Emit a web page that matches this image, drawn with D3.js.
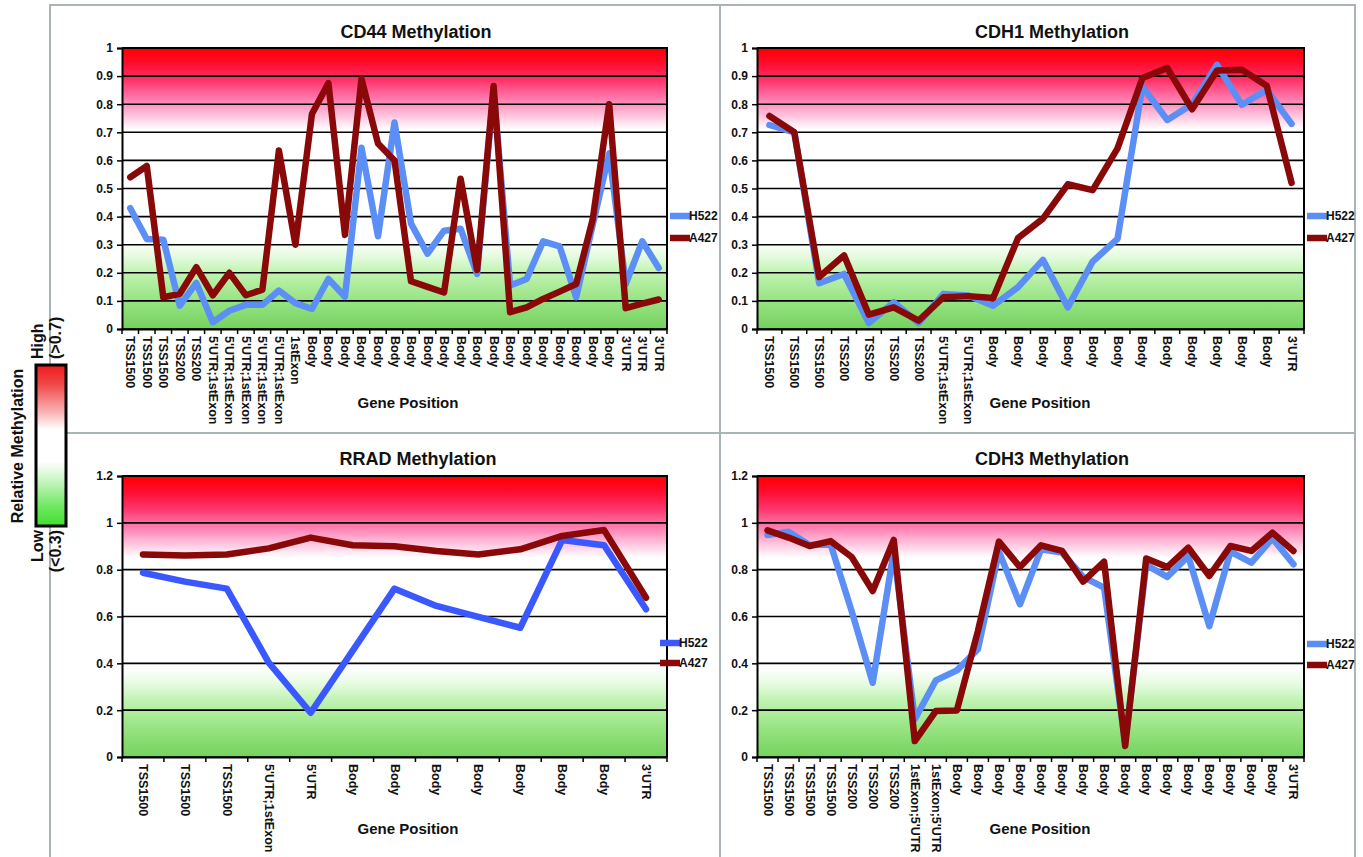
<!DOCTYPE html>
<html>
<head>
<meta charset="utf-8">
<script src="https://cdn.jsdelivr.net/npm/d3@7"></script>
<style>
  body { margin: 0; background: #fff; }
  svg { display: block; font-family: "Liberation Sans", Arial, sans-serif; font-weight: bold; }
</style>
</head>
<body>
<svg id="chart" width="1363" height="857"></svg>
<script>
// ---- data -------------------------------------------------------------
const cd44Categories = ["TSS1500","TSS1500","TSS1500","TSS200","TSS200",
  "5'UTR;1stExon","5'UTR;1stExon","5'UTR;1stExon","5'UTR;1stExon","5'UTR;1stExon","1stExon",
  "Body","Body","Body","Body","Body","Body","Body","Body","Body","Body",
  "Body","Body","Body","Body","Body","Body","Body","Body","Body",
  "3'UTR","3'UTR","3'UTR"];
const cd44H522 = [0.43,0.32,0.318,0.083,0.164,0.024,0.065,0.086,0.086,0.137,0.092,0.071,0.178,0.115,0.645,0.33,0.735,0.375,0.268,0.35,0.357,0.196,0.85,0.155,0.178,0.312,0.294,0.113,0.37,0.625,0.16,0.312,0.217];
const cd44A427 = [0.54,0.58,0.113,0.125,0.22,0.12,0.2,0.12,0.14,0.635,0.3,0.765,0.875,0.335,0.89,0.66,0.6,0.17,0.15,0.13,0.535,0.21,0.865,0.06,0.077,0.107,0.133,0.16,0.39,0.8,0.074,0.09,0.105];

const cdh1Categories = ["TSS1500","TSS1500","TSS1500","TSS200","TSS200","TSS200","TSS200",
  "5'UTR;1stExon","5'UTR;1stExon",
  "Body","Body","Body","Body","Body","Body","Body","Body","Body","Body","Body","Body",
  "3'UTR"];
const cdh1H522 = [0.726,0.70,0.163,0.196,0.021,0.095,0.021,0.125,0.119,0.083,0.149,0.246,0.077,0.24,0.321,0.863,0.744,0.80,0.94,0.798,0.851,0.73];
const cdh1A427 = [0.758,0.70,0.185,0.262,0.051,0.077,0.03,0.113,0.117,0.11,0.324,0.393,0.515,0.494,0.643,0.893,0.929,0.782,0.92,0.923,0.866,0.52];

const rradCategories = ["TSS1500","TSS1500","TSS1500","5'UTR;1stExon","5'UTR",
  "Body","Body","Body","Body","Body","Body","Body","3'UTR"];
const rradH522 = [0.787,0.749,0.719,0.403,0.189,0.453,0.719,0.645,0.598,0.552,0.927,0.904,0.631];
const rradA427 = [0.865,0.861,0.865,0.891,0.937,0.904,0.90,0.88,0.865,0.887,0.944,0.969,0.68];

const cdh3Categories = ["TSS1500","TSS1500","TSS1500","TSS1500","TSS200","TSS200","TSS200",
  "1stExon;5'UTR","1stExon;5'UTR",
  "Body","Body","Body","Body","Body","Body","Body","Body",
  "Body","Body","Body","Body","Body","Body","Body","Body",
  "3'UTR"];
const cdh3H522 = [0.948,0.962,0.905,0.908,0.623,0.317,0.88,0.161,0.327,0.37,0.46,0.877,0.652,0.887,0.873,0.769,0.723,0.06,0.82,0.769,0.858,0.559,0.877,0.83,0.934,0.823];
const cdh3A427 = [0.968,0.937,0.901,0.922,0.854,0.709,0.927,0.068,0.196,0.199,0.538,0.92,0.811,0.904,0.88,0.749,0.834,0.047,0.848,0.811,0.894,0.773,0.901,0.88,0.958,0.88];

const ticksTo1 = [0,0.1,0.2,0.3,0.4,0.5,0.6,0.7,0.8,0.9,1];
const ticksTo12 = [0,0.2,0.4,0.6,0.8,1,1.2];
const seriesNames = ["H522","A427"];

// ---- drawing ----------------------------------------------------------
const svg = d3.select("#chart");
const defs = svg.append("defs");

// plot-area heat background: red (high) -> white -> green (low)
const bg = defs.append("linearGradient").attr("id","heatBg")
  .attr("x1",0).attr("y1",0).attr("x2",0).attr("y2",1);
[[0,"#ff0000"],[0.05,"#ff0a2a"],[0.11,"#ff2f64"],[0.18,"#ff79ad"],[0.24,"#ffc3de"],[0.29,"#ffffff"],
 [0.68,"#ffffff"],[0.74,"#e6fbe0"],[0.8,"#bff3b0"],[0.9,"#97e382"],[1,"#74d25e"]]
  .forEach(([o,c]) => bg.append("stop").attr("offset",o).attr("stop-color",c));

// scale-key gradient
const kg = defs.append("linearGradient").attr("id","keyBg")
  .attr("x1",0).attr("y1",0).attr("x2",0).attr("y2",1);
[[0,"#ee1c1c"],[0.12,"#f04848"],[0.3,"#f9b8b8"],[0.4,"#ffffff"],[0.6,"#ffffff"],[0.72,"#c6f5c0"],[0.88,"#6fe860"],[1,"#3ee030"]]
  .forEach(([o,c]) => kg.append("stop").attr("offset",o).attr("stop-color",c));

// panel frame
const frame = svg.append("g").attr("stroke","#a9b4b7").attr("stroke-width",2).attr("fill","none");
frame.append("rect").attr("x",50).attr("y",5).attr("width",1305).attr("height",860);
frame.append("line").attr("x1",720).attr("x2",720).attr("y1",5).attr("y2",857);
frame.append("line").attr("x1",50).attr("x2",1355).attr("y1",433).attr("y2",433);

const fmt = d => String(+d.toFixed(1));

function drawPanel(p) {
  const g = svg.append("g");
  const n = p.categories.length;
  const x = d3.scaleBand().domain(d3.range(n)).range([p.left, p.right]);
  const y = d3.scaleLinear().domain([0, p.yMax]).range([p.bottom, p.top]);

  g.append("rect").attr("x",p.left).attr("y",p.top)
    .attr("width",p.right-p.left).attr("height",p.bottom-p.top)
    .attr("fill","url(#heatBg)");

  // gridlines
  g.append("g").selectAll("line").data(p.ticks).join("line")
    .attr("x1",p.left).attr("x2",p.right)
    .attr("y1",d=>y(d)).attr("y2",d=>y(d))
    .attr("stroke","#000").attr("stroke-width",1.6);

  // y axis
  const ya = g.append("g").attr("transform",`translate(${p.left},0)`)
    .call(d3.axisLeft(y).tickValues(p.ticks).tickFormat(fmt).tickSize(5).tickPadding(4));
  ya.select(".domain").attr("stroke","#000").attr("stroke-width",2);
  ya.selectAll(".tick line").attr("stroke","#000").attr("stroke-width",1.5);
  ya.selectAll("text").attr("font-size",12).attr("font-weight","bold")
    .attr("font-family","'Liberation Sans', Arial, sans-serif").attr("fill","#111");

  // x axis: category ticks sit between categories
  const xa = g.append("g").attr("transform",`translate(0,${p.bottom})`)
    .call(d3.axisBottom(x).tickFormat(i => p.categories[i]).tickSize(0).tickPadding(0));
  xa.select(".domain").attr("stroke","#000").attr("stroke-width",2);
  xa.selectAll("text")
    .attr("font-size",12.5).attr("font-weight","bold").attr("fill","#111")
    .attr("font-family","'Liberation Sans', Arial, sans-serif")
    .attr("text-anchor","start").attr("dy",null)
    .attr("dominant-baseline","central")
    .attr("transform","translate(0,7) rotate(90)");
  g.append("g").selectAll("line").data(d3.range(n+1)).join("line")
    .attr("x1",i => p.left + i*x.step()).attr("x2",i => p.left + i*x.step())
    .attr("y1",p.bottom).attr("y2",p.bottom+5)
    .attr("stroke","#000").attr("stroke-width",1.5);

  // plot border on right / top
  g.append("path")
    .attr("d",`M${p.left},${p.top}H${p.right}V${p.bottom}`)
    .attr("fill","none").attr("stroke","#000").attr("stroke-width",2);

  // series lines
  const line = d3.line().x((d,i) => x(i) + x.bandwidth()/2).y(d => y(d)).curve(d3.curveLinear);
  const colors = [p.blue, "#890808"];
  [p.h522, p.a427].forEach((vals, k) => {
    g.append("path").datum(vals)
      .attr("d", line)
      .attr("fill","none").attr("stroke",colors[k]).attr("stroke-width",6.5)
      .attr("stroke-linejoin","round").attr("stroke-linecap","round");
  });

  // title
  g.append("text").attr("x",p.titleX).attr("y",p.titleY)
    .attr("text-anchor","middle").attr("font-size",18).attr("fill","#111").text(p.title);

  // axis title
  g.append("text").attr("x",p.axisX).attr("y",p.axisY)
    .attr("text-anchor","middle").attr("font-size",15).attr("fill","#111").text("Gene Position");

  // legend
  seriesNames.forEach((name,k) => {
    const ly = p.legendY[k];
    g.append("line").attr("x1",p.legendX).attr("x2",p.legendX+20)
      .attr("y1",ly).attr("y2",ly).attr("stroke",colors[k]).attr("stroke-width",6.5);
    g.append("text").attr("x",p.legendX+19).attr("y",ly).attr("dominant-baseline","central")
      .attr("font-size",12).attr("fill","#111").text(name);
  });
}

drawPanel({ title:"CD44 Methylation", categories:cd44Categories, h522:cd44H522, a427:cd44A427,
  left:122, right:667, top:48, bottom:329, yMax:1, ticks:ticksTo1, blue:"#5b8ff5",
  titleX:416, titleY:38, axisX:408, axisY:408, legendX:670, legendY:[216,238] });
drawPanel({ title:"CDH1 Methylation", categories:cdh1Categories, h522:cdh1H522, a427:cdh1A427,
  left:757, right:1304, top:48, bottom:329, yMax:1, ticks:ticksTo1, blue:"#5b8ff5",
  titleX:1052, titleY:38, axisX:1040, axisY:408, legendX:1307, legendY:[216,238] });
drawPanel({ title:"RRAD Methylation", categories:rradCategories, h522:rradH522, a427:rradA427,
  left:122, right:667, top:476, bottom:757, yMax:1.2, ticks:ticksTo12, blue:"#3a58ff",
  titleX:418, titleY:465, axisX:408, axisY:834, legendX:660, legendY:[643,663] });
drawPanel({ title:"CDH3 Methylation", categories:cdh3Categories, h522:cdh3H522, a427:cdh3A427,
  left:757, right:1304, top:476, bottom:757, yMax:1.2, ticks:ticksTo12, blue:"#5b8ff5",
  titleX:1052, titleY:465, axisX:1040, axisY:834, legendX:1307, legendY:[644,665] });

// relative methylation key
const key = svg.append("g");
key.append("rect").attr("x",36).attr("y",365).attr("width",30).attr("height",161)
  .attr("fill","url(#keyBg)").attr("stroke","#000").attr("stroke-width",3);
const vText = (x, y, s, t, anchor) => key.append("text")
  .attr("transform",`translate(${x},${y}) rotate(-90)`)
  .attr("text-anchor",anchor).attr("font-size",s).attr("fill","#111").text(t);
vText(23, 446, 16, "Relative Methylation", "middle");
vText(43, 359, 16, "High", "start");
vText(61, 359, 16, "(>0.7)", "start");
vText(43, 530, 16, "Low", "end");
vText(61, 530, 16, "(<0.3)", "end");
</script>
</body>
</html>
